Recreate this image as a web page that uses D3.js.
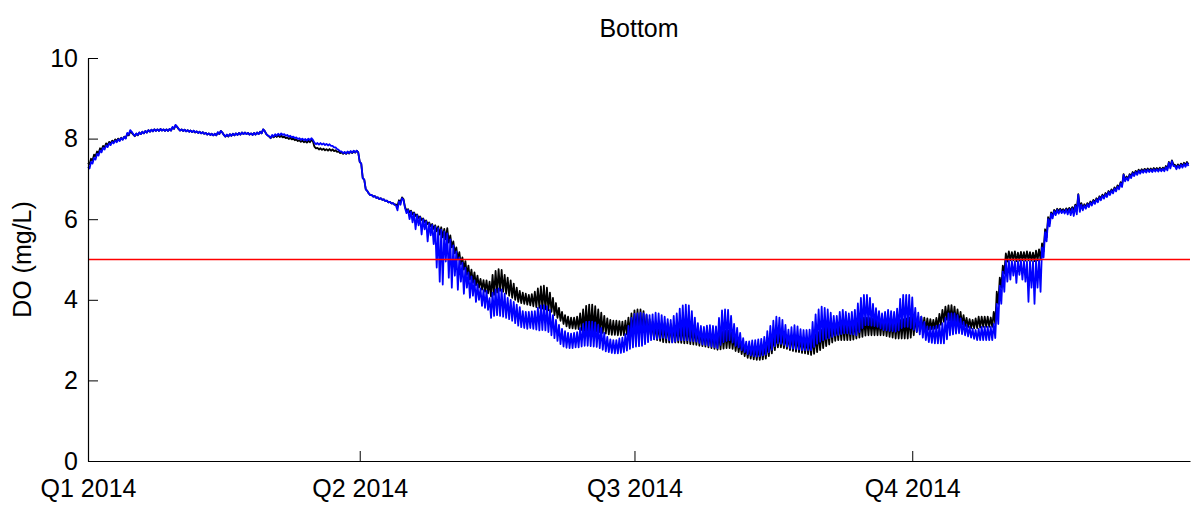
<!DOCTYPE html>
<html><head><meta charset="utf-8">
<script src="https://cdn.jsdelivr.net/npm/d3@7"></script>
<style>
body{margin:0;background:#fff}
svg text{font-family:"Liberation Sans",Arial,Helvetica,sans-serif;fill:#000}
</style>
</head><body>
<svg id="chart" width="1192" height="506"></svg>
<script>
// ---- data (daily high / low readings, day 0 = 1 Jan 2014) ----
const startDate = [2014, 0, 1];
const endDate = [2015, 0, 1];
const quarterDates = [[2014,0,1],[2014,3,1],[2014,6,1],[2014,9,1]];
const quarterLabels = ["Q1 2014","Q2 2014","Q3 2014","Q4 2014"];
const yTicks = [0,2,4,6,8,10];
const threshold = 5;
const titleText = "Bottom";
const yLabelText = "DO (mg/L)";

const blackHi = [
7.40,7.50,7.60,7.68,7.76,7.82,7.88,7.92,7.95,7.98,
8.00,8.02,8.05,8.12,8.18,8.10,8.12,8.15,8.17,8.19,
8.21,8.22,8.23,8.23,8.24,8.23,8.23,8.24,8.28,8.33,
8.24,8.23,8.22,8.21,8.20,8.19,8.18,8.17,8.16,8.14,
8.13,8.12,8.12,8.15,8.19,8.09,8.09,8.11,8.12,8.13,
8.14,8.15,8.15,8.14,8.13,8.14,8.15,8.17,8.23,8.12,
8.05,8.07,8.08,8.08,8.07,8.05,8.03,8.02,8.00,7.98,
7.96,7.95,7.94,7.95,7.97,7.80,7.77,7.76,7.75,7.74,
7.74,7.73,7.71,7.68,7.66,7.66,7.67,7.68,7.69,7.70,
7.42,7.02,6.74,6.64,6.60,6.57,6.54,6.52,6.49,6.46,
6.43,6.40,6.37,6.47,6.54,6.30,6.25,6.21,6.17,6.12,
6.07,6.02,5.97,5.92,5.88,5.85,5.82,5.80,5.76,5.78,
5.60,5.45,5.30,5.18,5.05,4.96,4.85,4.75,4.68,4.60,
4.52,4.49,4.48,4.45,4.62,4.72,4.76,4.74,4.62,4.55,
4.48,4.40,4.30,4.22,4.18,4.15,4.12,4.14,4.20,4.28,
4.33,4.35,4.30,4.18,4.05,3.92,3.80,3.70,3.62,3.58,
3.56,3.56,3.58,3.66,3.76,3.85,3.88,3.88,3.84,3.76,
3.68,3.60,3.54,3.50,3.48,3.48,3.47,3.46,3.48,3.56,
3.66,3.74,3.76,3.76,3.72,3.62,3.52,3.46,3.42,3.40,
3.40,3.42,3.42,3.40,3.38,3.36,3.36,3.38,3.38,3.36,
3.34,3.32,3.30,3.25,3.23,3.23,3.22,3.20,3.18,3.20,
3.22,3.24,3.24,3.20,3.12,3.05,2.98,2.90,2.86,2.85,
2.84,2.84,2.85,2.86,2.88,2.95,3.05,3.12,3.18,3.18,
3.15,3.13,3.12,3.12,3.12,3.10,3.08,3.06,3.05,3.04,
3.08,3.15,3.20,3.25,3.30,3.35,3.40,3.44,3.44,3.45,
3.45,3.45,3.45,3.46,3.48,3.52,3.55,3.56,3.56,3.55,
3.54,3.53,3.52,3.52,3.50,3.49,3.48,3.48,3.48,3.50,
3.52,3.54,3.56,3.58,3.58,3.58,3.58,3.56,3.54,3.52,
3.50,3.55,3.65,3.75,3.83,3.86,3.87,3.83,3.76,3.70,
3.62,3.55,3.52,3.50,3.54,3.58,3.58,3.58,3.58,3.56,
3.70,4.20,4.55,4.85,5.15,5.20,5.18,5.20,5.17,5.19,
5.18,5.20,5.18,5.17,5.22,5.25,5.40,5.75,6.05,6.17,
6.23,6.26,6.26,6.25,6.27,6.28,6.30,6.36,6.62,6.40,
6.37,6.40,6.44,6.48,6.52,6.57,6.61,6.65,6.70,6.74,
6.79,6.84,6.92,7.12,7.06,7.12,7.17,7.20,7.23,7.24,
7.25,7.26,7.26,7.27,7.27,7.28,7.28,7.32,7.42,7.46,
7.35,7.36,7.38,7.40,7.42];

const blackLo = [
7.36,7.46,7.56,7.64,7.72,7.78,7.84,7.88,7.91,7.94,
7.96,7.98,8.01,8.08,8.14,8.06,8.08,8.11,8.13,8.15,
8.17,8.18,8.19,8.19,8.20,8.19,8.19,8.20,8.24,8.29,
8.20,8.19,8.18,8.17,8.16,8.15,8.14,8.13,8.12,8.10,
8.09,8.08,8.08,8.11,8.15,8.05,8.05,8.07,8.08,8.09,
8.10,8.11,8.11,8.10,8.09,8.10,8.11,8.13,8.19,8.08,
8.01,8.03,8.04,8.04,8.03,8.01,7.99,7.98,7.96,7.94,
7.92,7.91,7.90,7.91,7.93,7.76,7.73,7.72,7.71,7.70,
7.70,7.69,7.67,7.64,7.62,7.62,7.63,7.64,7.65,7.66,
7.38,6.98,6.70,6.60,6.56,6.53,6.50,6.48,6.45,6.42,
6.39,6.36,6.33,6.43,6.50,6.22,6.17,6.12,6.08,6.03,
5.98,5.93,5.88,5.82,5.76,5.70,5.62,5.55,5.50,5.42,
5.30,5.15,5.00,4.88,4.75,4.62,4.50,4.42,4.36,4.30,
4.25,4.20,4.16,4.08,4.12,4.18,4.22,4.20,4.15,4.10,
4.05,4.00,3.95,3.92,3.90,3.88,3.86,3.84,3.82,3.80,
3.78,3.76,3.74,3.70,3.62,3.55,3.48,3.40,3.34,3.30,
3.29,3.28,3.27,3.25,3.23,3.22,3.22,3.21,3.21,3.20,
3.18,3.16,3.14,3.13,3.13,3.12,3.12,3.12,3.14,3.15,
3.16,3.17,3.17,3.17,3.14,3.10,3.06,3.02,3.00,2.98,
2.95,2.94,2.94,2.95,2.94,2.94,2.93,2.92,2.92,2.90,
2.89,2.88,2.86,2.85,2.84,2.82,2.80,2.78,2.76,2.77,
2.79,2.80,2.80,2.78,2.73,2.70,2.65,2.60,2.56,2.54,
2.52,2.51,2.51,2.52,2.54,2.60,2.67,2.75,2.82,2.82,
2.80,2.78,2.75,2.73,2.71,2.70,2.68,2.67,2.65,2.63,
2.66,2.70,2.75,2.80,2.85,2.89,2.94,2.98,3.00,3.00,
3.00,3.00,3.00,3.01,3.04,3.06,3.08,3.11,3.12,3.12,
3.12,3.12,3.12,3.12,3.10,3.08,3.06,3.04,3.04,3.04,
3.04,3.04,3.06,3.12,3.20,3.22,3.24,3.25,3.26,3.27,
3.28,3.30,3.38,3.45,3.50,3.48,3.46,3.43,3.40,3.38,
3.35,3.32,3.30,3.29,3.30,3.31,3.33,3.33,3.33,3.33,
3.40,3.90,4.30,4.65,4.95,4.98,4.98,4.96,4.97,4.98,
4.97,4.98,4.97,4.96,4.98,5.00,5.20,5.55,5.90,6.08,
6.16,6.19,6.20,6.19,6.21,6.22,6.23,6.25,6.30,6.28,
6.30,6.34,6.38,6.42,6.46,6.51,6.55,6.59,6.64,6.68,
6.73,6.78,6.84,6.98,7.00,7.06,7.11,7.14,7.17,7.19,
7.20,7.21,7.21,7.22,7.22,7.22,7.23,7.25,7.30,7.36,
7.28,7.30,7.32,7.34,7.36];

const blueHi = [
7.30,7.42,7.52,7.62,7.70,7.77,7.83,7.88,7.92,7.95,
7.98,8.01,8.04,8.14,8.21,8.11,8.13,8.15,8.17,8.19,
8.21,8.22,8.23,8.23,8.24,8.23,8.23,8.24,8.29,8.34,
8.24,8.23,8.22,8.21,8.20,8.20,8.18,8.17,8.16,8.14,
8.13,8.12,8.12,8.16,8.19,8.09,8.10,8.11,8.12,8.13,
8.14,8.15,8.15,8.14,8.13,8.14,8.15,8.17,8.23,8.12,
8.06,8.09,8.11,8.12,8.13,8.11,8.09,8.07,8.05,8.03,
8.01,8.00,7.99,8.00,8.01,7.90,7.89,7.89,7.88,7.87,
7.86,7.82,7.78,7.72,7.68,7.67,7.68,7.69,7.70,7.70,
7.42,7.02,6.74,6.64,6.60,6.57,6.54,6.52,6.49,6.46,
6.43,6.40,6.34,6.44,6.52,6.28,6.23,6.19,6.15,6.10,
6.05,6.00,5.95,5.90,5.86,5.82,5.78,5.74,5.70,5.65,
5.50,5.35,5.20,5.05,4.92,4.80,4.68,4.58,4.48,4.38,
4.28,4.24,4.22,4.04,4.18,4.26,4.28,4.26,4.15,4.05,
4.00,3.95,3.88,3.82,3.72,3.70,3.70,3.71,3.72,3.80,
3.86,3.87,3.84,3.75,3.62,3.50,3.38,3.28,3.22,3.18,
3.16,3.18,3.20,3.30,3.40,3.45,3.46,3.46,3.44,3.38,
3.30,3.18,3.08,3.02,3.00,3.00,3.04,3.06,3.15,3.35,
3.55,3.65,3.66,3.68,3.66,3.64,3.62,3.64,3.68,3.66,
3.62,3.58,3.52,3.50,3.60,3.66,3.78,3.86,3.88,3.86,
3.72,3.56,3.42,3.35,3.33,3.36,3.37,3.35,3.34,3.55,
3.74,3.76,3.75,3.60,3.40,3.30,3.18,3.05,2.96,2.97,
2.99,3.00,3.02,3.03,3.08,3.22,3.35,3.48,3.58,3.56,
3.50,3.38,3.26,3.32,3.37,3.34,3.27,3.25,3.25,3.26,
3.45,3.64,3.76,3.83,3.80,3.76,3.68,3.60,3.60,3.70,
3.75,3.70,3.66,3.70,3.75,3.91,4.05,4.12,4.12,4.05,
3.90,3.79,3.72,3.66,3.70,3.75,3.72,3.70,3.78,4.02,
4.12,4.12,4.12,4.06,3.80,3.68,3.58,3.45,3.34,3.33,
3.33,3.35,3.38,3.42,3.55,3.66,3.66,3.66,3.62,3.54,
3.45,3.38,3.33,3.28,3.25,3.28,3.33,3.33,3.33,3.33,
3.40,3.90,4.35,4.70,4.98,4.98,4.96,4.95,4.96,4.97,
4.96,4.95,4.96,4.95,4.98,5.00,5.30,5.68,6.00,6.14,
6.20,6.23,6.23,6.22,6.24,6.25,6.27,6.33,6.60,6.36,
6.34,6.37,6.41,6.45,6.49,6.54,6.58,6.62,6.67,6.71,
6.76,6.81,6.89,7.10,7.03,7.09,7.14,7.17,7.20,7.21,
7.22,7.23,7.23,7.24,7.24,7.25,7.25,7.29,7.40,7.44,
7.32,7.33,7.35,7.37,7.39];

const blueLo = [
7.26,7.38,7.48,7.58,7.66,7.73,7.79,7.84,7.88,7.91,
7.94,7.97,8.00,8.10,8.17,8.07,8.09,8.11,8.13,8.15,
8.17,8.18,8.19,8.19,8.20,8.19,8.19,8.20,8.25,8.30,
8.20,8.19,8.18,8.17,8.16,8.16,8.14,8.13,8.12,8.10,
8.09,8.08,8.08,8.12,8.15,8.05,8.06,8.07,8.08,8.09,
8.10,8.11,8.11,8.10,8.09,8.10,8.11,8.13,8.19,8.08,
8.02,8.05,8.07,8.08,8.09,8.07,8.05,8.03,8.01,7.99,
7.97,7.96,7.95,7.96,7.97,7.86,7.85,7.85,7.84,7.83,
7.82,7.78,7.74,7.68,7.64,7.63,7.64,7.65,7.66,7.66,
7.38,6.98,6.70,6.60,6.56,6.53,6.50,6.48,6.45,6.42,
6.39,6.36,6.22,6.36,6.48,6.15,6.00,5.92,5.75,5.85,
5.62,5.75,5.45,5.60,5.38,4.80,4.45,4.38,4.95,4.55,
4.30,4.60,4.25,4.45,4.15,4.30,4.05,4.10,3.95,4.00,
3.85,3.80,3.75,3.55,3.60,3.62,3.60,3.58,3.55,3.52,
3.48,3.42,3.36,3.32,3.30,3.28,3.30,3.28,3.26,3.24,
3.25,3.24,3.20,3.12,3.05,2.98,2.90,2.84,2.81,2.80,
2.80,2.82,2.82,2.84,2.86,2.86,2.85,2.84,2.83,2.80,
2.76,2.72,2.70,2.68,2.67,2.67,2.68,2.70,2.74,2.78,
2.82,2.84,2.85,2.86,2.90,2.95,3.00,3.02,3.03,3.05,
3.06,3.04,3.00,2.94,2.96,3.00,3.00,3.00,3.00,2.98,
2.97,2.96,2.93,2.89,2.88,2.86,2.84,2.82,2.80,2.88,
2.95,2.98,3.00,2.94,2.86,2.82,2.75,2.70,2.65,2.62,
2.60,2.59,2.60,2.62,2.64,2.70,2.76,2.85,2.92,2.91,
2.88,2.84,2.80,2.79,2.78,2.77,2.75,2.75,2.75,2.75,
2.83,2.91,2.96,3.00,3.03,3.05,3.08,3.11,3.13,3.15,
3.17,3.17,3.15,3.14,3.12,3.20,3.30,3.37,3.37,3.36,
3.35,3.33,3.29,3.25,3.24,3.23,3.22,3.21,3.24,3.30,
3.33,3.33,3.30,3.26,3.21,3.14,3.06,3.00,2.95,2.93,
2.92,2.92,2.92,2.92,3.02,3.12,3.14,3.16,3.17,3.15,
3.12,3.09,3.06,3.03,3.00,3.00,3.00,3.00,3.00,3.00,
3.05,3.40,3.90,4.20,4.45,4.50,4.60,4.42,4.62,4.50,
4.45,3.95,4.30,3.90,4.30,4.20,5.05,5.45,5.82,6.02,
6.10,6.14,6.15,6.14,6.12,6.10,6.08,6.12,6.18,6.22,
6.26,6.30,6.34,6.38,6.42,6.47,6.51,6.55,6.60,6.64,
6.69,6.74,6.80,6.94,6.96,7.02,7.07,7.10,7.13,7.15,
7.16,7.17,7.17,7.18,7.18,7.19,7.19,7.21,7.26,7.32,
7.24,7.26,7.28,7.30,7.32];

// ---- layout ----
const W = 1192, H = 506;
const m = {left: 88, right: 2, top: 58, bottom: 45};
const svg = d3.select("#chart");

const toDate = a => new Date(a[0], a[1], a[2]);
const t0 = toDate(startDate);
const x = d3.scaleTime().domain([t0, toDate(endDate)]).range([m.left, W - m.right]);
const y = d3.scaleLinear().domain([0, 10]).range([H - m.bottom, m.top]);

function zigzag(hi, lo) {
  const pts = [];
  hi.forEach((v, i) => {
    const d = d3.timeDay.offset(t0, i);
    pts.push([d, v]);
    pts.push([d3.timeHour.offset(d, 12), lo[i]]);
  });
  return pts;
}
const line = d3.line().x(p => x(p[0])).y(p => y(p[1]));

svg.append("path").datum(zigzag(blackHi, blackLo))
  .attr("d", line).attr("fill", "none").attr("stroke", "#000000")
  .attr("stroke-width", 1.8).attr("stroke-linejoin", "round");
svg.append("path").datum(zigzag(blueHi, blueLo))
  .attr("d", line).attr("fill", "none").attr("stroke", "#0000ff")
  .attr("stroke-width", 1.8).attr("stroke-linejoin", "round");

// threshold
svg.append("line")
  .attr("x1", x.range()[0]).attr("x2", x.range()[1])
  .attr("y1", y(threshold)).attr("y2", y(threshold))
  .style("stroke", "#ff0000").attr("stroke-width", 1.5);

// axes
const fs = 25;
const yAxis = d3.axisLeft(y).tickValues(yTicks).tickFormat(d3.format("d"))
  .tickSizeInner(-10).tickSizeOuter(0).tickPadding(10);
const gy = svg.append("g").attr("transform", `translate(${m.left},0)`).call(yAxis);
const xAxis = d3.axisBottom(x).tickValues(quarterDates.map(toDate))
  .tickFormat((d, i) => quarterLabels[i])
  .tickSizeInner(-10).tickSizeOuter(0).tickPadding(18);
const gx = svg.append("g").attr("transform", `translate(0,${H - m.bottom})`).call(xAxis);
[gx, gy].forEach(g => {
  g.selectAll(".domain").attr("stroke", "#000").attr("stroke-width", 1.2);
  g.selectAll(".tick line").attr("stroke", "#000").attr("stroke-width", 1);
  g.selectAll("text").attr("font-size", fs).attr("fill", "#000")
    .attr("font-family", '"Liberation Sans",Arial,sans-serif');
});
gx.select(".tick line").remove();

// title and y label
svg.append("text").attr("x", (x.range()[0] + x.range()[1]) / 2).attr("y", 37)
  .attr("text-anchor", "middle").attr("font-size", 25).text(titleText);
svg.append("text")
  .attr("transform", `translate(31,${(y(0) + y(10)) / 2}) rotate(-90)`)
  .attr("text-anchor", "middle").attr("font-size", 25).text(yLabelText);
</script>
</body></html>
